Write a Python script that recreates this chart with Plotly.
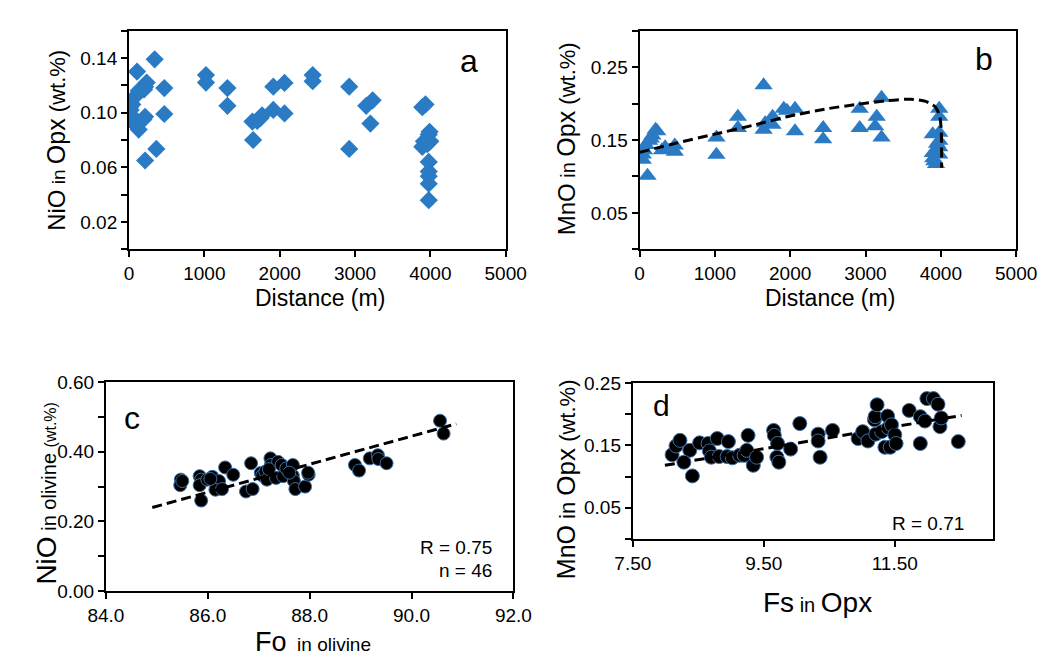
import plotly.graph_objects as go

# ---- panel a: NiO in Opx vs distance ----
dist_a = [340, 106, 43, 21, 10, 30, 43, 25, 85, 128, 85, 128, 170, 234, 213, 200, 213, 190,
          213, 362, 468, 468, 1021, 1021, 1306, 1306, 1638, 1647, 1702, 1766, 1745, 1915,
          1915, 2064, 2064, 2438, 2438, 2923, 2923, 3149, 3234, 3204, 3893, 3936, 3915,
          3893, 3979, 4000, 3960, 3979, 3979, 3979, 3979, 3979, 3990]
nio_opx = [0.139, 0.130, 0.106, 0.102, 0.104, 0.098, 0.097, 0.095, 0.091, 0.0876, 0.112, 0.116,
           0.118, 0.122, 0.119, 0.117, 0.097, 0.095, 0.065, 0.0735, 0.118, 0.099, 0.1275, 0.122,
           0.118, 0.105, 0.0935, 0.080, 0.094, 0.098, 0.096, 0.119, 0.102, 0.1217, 0.0994,
           0.1275, 0.123, 0.119, 0.0735, 0.105, 0.109, 0.092, 0.104, 0.106, 0.079, 0.075,
           0.084, 0.079, 0.077, 0.064, 0.057, 0.0535, 0.048, 0.036, 0.086]

# ---- panel b: MnO in Opx vs distance ----
dist_b = [106, 43, 43, 60, 85, 128, 170, 234, 213, 150, 298, 340, 468, 468, 1021, 1021, 1306,
          1306, 1647, 1647, 1668, 1766, 1766, 1915, 1957, 2064, 2064, 2438, 2438, 2923, 2923,
          3149, 3128, 3213, 3213, 3893, 3893, 3915, 3979, 3979, 3979, 3979, 3979, 3979, 3936,
          3900, 3950]
mno_opx_b = [0.101, 0.123, 0.130, 0.136, 0.143, 0.149, 0.156, 0.162, 0.164, 0.152, 0.136, 0.140,
             0.1426, 0.134, 0.1535, 0.1296, 0.182, 0.1665, 0.225, 0.164, 0.173, 0.182, 0.171,
             0.193, 0.190, 0.193, 0.162, 0.1665, 0.151, 0.193, 0.1665, 0.182, 0.169, 0.208,
             0.1535, 0.158, 0.132, 0.121, 0.193, 0.182, 0.160, 0.149, 0.140, 0.130, 0.117,
             0.125, 0.145]
curve_x = [0, 500, 1000, 1500, 2000, 2500, 2900, 3300, 3600, 3800, 3930, 3985, 4005, 4010, 4010]
curve_y = [0.133, 0.146, 0.158, 0.170, 0.183, 0.193, 0.199, 0.204, 0.206, 0.203, 0.195, 0.183,
           0.165, 0.140, 0.112]

# ---- panel c: NiO in olivine vs Fo ----
fo = [85.47, 85.46, 85.50, 85.84, 85.87, 85.84, 85.87, 85.99, 86.09, 86.22, 86.15, 86.28, 86.34,
      86.50, 86.75, 86.85, 86.88, 87.04, 87.07, 87.13, 87.16, 87.23, 87.24, 87.34, 87.38, 87.45,
      87.48, 87.54, 87.67, 87.67, 87.69, 87.72, 87.91, 87.98, 87.97, 88.89, 88.97, 89.18, 89.34,
      89.35, 89.51, 90.56, 90.63, 87.20, 86.05, 87.60]
nio_ol = [0.320, 0.304, 0.316, 0.330, 0.320, 0.304, 0.260, 0.320, 0.328, 0.316, 0.291, 0.293,
          0.355, 0.334, 0.286, 0.367, 0.293, 0.339, 0.332, 0.343, 0.320, 0.381, 0.362, 0.325,
          0.371, 0.362, 0.330, 0.352, 0.362, 0.331, 0.316, 0.293, 0.300, 0.334, 0.340, 0.362,
          0.346, 0.381, 0.390, 0.379, 0.367, 0.489, 0.452, 0.350, 0.322, 0.340]
trend_c_x = [84.91, 90.88]
trend_c_y = [0.240, 0.480]

# ---- panel d: MnO in Opx vs Fs ----
fs = [8.10, 8.16, 8.22, 8.37, 8.28, 8.41, 8.52, 8.65, 8.67, 8.70, 8.79, 8.82, 8.96, 8.94, 9.02,
      9.13, 9.20, 9.26, 9.24, 9.34, 9.39, 9.65, 9.66, 9.71, 9.70, 9.73, 9.91, 10.05, 10.33,
      10.33, 10.36, 10.55, 10.94, 11.01, 11.09, 11.19, 11.20, 11.23, 11.21, 11.30, 11.35, 11.39,
      11.40, 11.43, 11.45, 11.50, 11.52, 11.72, 11.89, 11.89, 11.96, 11.99, 12.09, 12.16,
      12.19, 12.21, 12.47]
mno_opx_d = [0.135, 0.149, 0.158, 0.142, 0.123, 0.101, 0.154, 0.153, 0.141, 0.131, 0.161, 0.132,
             0.156, 0.132, 0.130, 0.134, 0.134, 0.166, 0.142, 0.118, 0.131, 0.174, 0.166, 0.153,
             0.131, 0.123, 0.144, 0.185, 0.168, 0.157, 0.131, 0.174, 0.161, 0.172, 0.157, 0.191,
             0.196, 0.215, 0.168, 0.172, 0.147, 0.197, 0.178, 0.147, 0.183, 0.167, 0.153, 0.206,
             0.196, 0.153, 0.189, 0.225, 0.225, 0.216, 0.180, 0.194, 0.156]
trend_d_x = [7.99, 12.52]
trend_d_y = [0.118, 0.198]

W, H = 1059, 660
FONT = "Liberation Sans, Arial, sans-serif"
BLUE = "#2a7bc4"


def px_x(p):
    return p / W


def px_y(p):
    return 1 - p / H


def make_axis(x0, x1, rng, vals, text, anchor, y=False, y0=None, y1=None):
    ax = dict(
        range=rng, tickvals=vals, ticktext=text, anchor=anchor,
        showline=True, linecolor="black", linewidth=2, mirror=True,
        ticks="outside", ticklen=6, tickwidth=1.5, tickcolor="black",
        showgrid=False, zeroline=False,
        tickfont=dict(family=FONT, size=19, color="black"),
    )
    if y:
        ax["domain"] = [px_y(y1), px_y(y0)]
    else:
        ax["domain"] = [px_x(x0), px_x(x1)]
    return ax


fig = go.Figure()

dash = dict(color="black", width=3, dash="10px,5px")

fig.add_trace(go.Scatter(x=dist_a, y=nio_opx, mode="markers", xaxis="x", yaxis="y",
                         marker=dict(symbol="diamond", size=14, color=BLUE, line=dict(width=0))))

fig.add_trace(go.Scatter(x=dist_b, y=mno_opx_b, mode="markers", xaxis="x2", yaxis="y2",
                         marker=dict(symbol="triangle-up", size=16, color=BLUE, line=dict(width=0))))
fig.add_trace(go.Scatter(x=curve_x, y=curve_y, mode="lines", xaxis="x2", yaxis="y2",
                         line=dict(shape="spline", smoothing=0.6, **dash)))

fig.add_trace(go.Scatter(x=fo, y=nio_ol, mode="markers", xaxis="x3", yaxis="y3",
                         marker=dict(symbol="circle", size=13, color="black",
                                     line=dict(width=1, color="#3b6fa8"))))
fig.add_trace(go.Scatter(x=trend_c_x, y=trend_c_y, mode="lines", xaxis="x3", yaxis="y3", line=dash))

fig.add_trace(go.Scatter(x=fs, y=mno_opx_d, mode="markers", xaxis="x4", yaxis="y4",
                         marker=dict(symbol="circle", size=14, color="black",
                                     line=dict(width=1, color="#3b6fa8"))))
fig.add_trace(go.Scatter(x=trend_d_x, y=trend_d_y, mode="lines", xaxis="x4", yaxis="y4", line=dash))

dist_ticks = [0, 1000, 2000, 3000, 4000, 5000]
dist_text = [str(v) for v in dist_ticks]

fig.update_layout(
    width=W, height=H, showlegend=False,
    plot_bgcolor="white", paper_bgcolor="white",
    margin=dict(l=0, r=0, t=0, b=0),
    font=dict(family=FONT, color="black"),
    xaxis=make_axis(107, 498, [0, 5000], dist_ticks, dist_text, "y"),
    yaxis=make_axis(0, 0, [0, 0.16], [0, 0.02, 0.04, 0.06, 0.08, 0.10, 0.12, 0.14, 0.16],
                    ["", "0.02", "", "0.06", "", "0.10", "", "0.14", ""], "x", y=True, y0=13, y1=239),
    xaxis2=make_axis(637, 1028, [0, 5000], dist_ticks, dist_text, "y2"),
    yaxis2=make_axis(0, 0, [0, 0.30], [0, 0.05, 0.10, 0.15, 0.20, 0.25, 0.30],
                     ["", "0.05", "", "0.15", "", "0.25", ""], "x2", y=True, y0=13, y1=239),
    xaxis3=make_axis(83, 506, [84, 92], [84, 86, 88, 90, 92],
                     ["84.0", "86.0", "88.0", "90.0", "92.0"], "y3"),
    yaxis3=make_axis(0, 0, [0, 0.6], [0, 0.1, 0.2, 0.3, 0.4, 0.5, 0.6],
                     ["0.00", "", "0.20", "", "0.40", "", "0.60"], "x3", y=True, y0=376, y1=592),
    xaxis4=make_axis(630, 1004, [7.5, 13.0], [7.5, 9.5, 11.5], ["7.50", "9.50", "11.50"], "y4"),
    yaxis4=make_axis(0, 0, [0, 0.25], [0, 0.05, 0.10, 0.15, 0.20, 0.25],
                     ["", "0.05", "", "0.15", "", "0.25"], "x4", y=True, y0=377, y1=538),
)


def note(text, x, y, size=17, angle=0, xanchor="center", yanchor="middle"):
    fig.add_annotation(xref="paper", yref="paper", x=px_x(x), y=px_y(y), text=text,
                       showarrow=False, textangle=angle, xanchor=xanchor, yanchor=yanchor,
                       font=dict(family=FONT, size=size, color="black"))


def sp(t, s):
    return f'<span style="font-size:{s}px">{t}</span>'


# axis titles
note("Distance (m)", 305, 289, size=23)
note("Distance (m)", 835, 289, size=23)
note(sp("NiO", 24) + sp(" in ", 19) + sp("Opx", 25) + sp(" (wt.%)", 22), 31, 126, angle=-90)
note(sp("MnO", 24) + sp(" in ", 20) + sp("Opx", 25) + sp(" (wt.%)", 22), 561, 125, angle=-90)
note(sp("NiO", 28) + sp(" in olivine ", 20) + sp("(wt.%)", 16), 21, 491, angle=-90)
note(sp("MnO", 25) + sp(" in ", 22) + sp("Opx", 26) + sp(" (wt.%)", 22), 561, 476, angle=-90)
note(sp("Fo", 27) + sp("&nbsp;&nbsp;in olivine", 19), 298, 645)
note(sp("Fs", 28) + sp(" in ", 20) + sp("Opx", 28), 822, 604)

# panel letters and statistics
note("a", 460, 44, size=32)
note("b", 995, 42, size=32)
note("c", 110, 413, size=32)
note("d", 660, 400, size=30)
note("R = 0.75", 486, 547, size=19, xanchor="right")
note("n = 46", 486, 571, size=19, xanchor="right")
note("R = 0.71", 976, 522, size=19, xanchor="right")

fig.write_html("out.html")
